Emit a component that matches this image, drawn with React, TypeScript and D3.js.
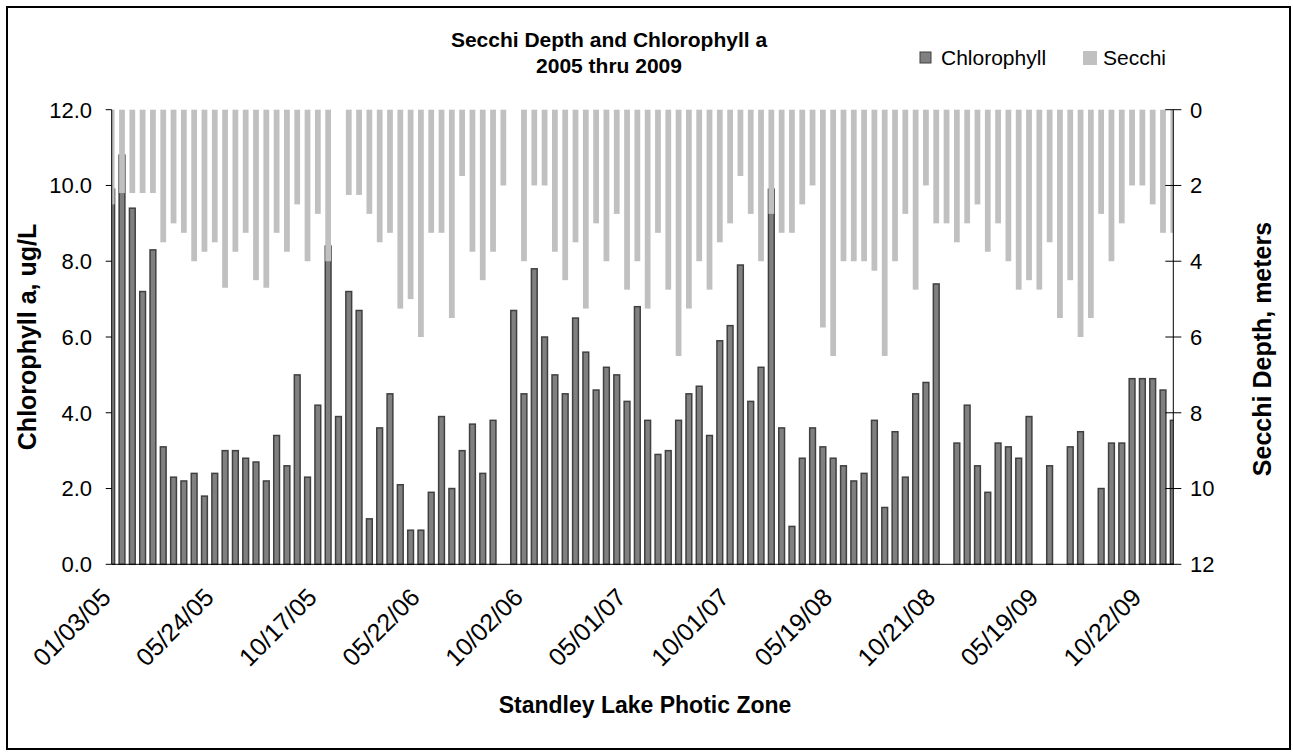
import React from "react";
import * as d3 from "d3";

const chlorophyll: (number | null)[] = [
  9.9, 10.8, 9.4, 7.2, 8.3, 3.1, 2.3, 2.2, 2.4, 1.8,
  2.4, 3.0, 3.0, 2.8, 2.7, 2.2, 3.4, 2.6, 5.0, 2.3,
  4.2, 8.4, 3.9, 7.2, 6.7, 1.2, 3.6, 4.5, 2.1, 0.9,
  0.9, 1.9, 3.9, 2.0, 3.0, 3.7, 2.4, 3.8, null, 6.7,
  4.5, 7.8, 6.0, 5.0, 4.5, 6.5, 5.6, 4.6, 5.2, 5.0,
  4.3, 6.8, 3.8, 2.9, 3.0, 3.8, 4.5, 4.7, 3.4, 5.9,
  6.3, 7.9, 4.3, 5.2, 9.9, 3.6, 1.0, 2.8, 3.6, 3.1,
  2.8, 2.6, 2.2, 2.4, 3.8, 1.5, 3.5, 2.3, 4.5, 4.8,
  7.4, null, 3.2, 4.2, 2.6, 1.9, 3.2, 3.1, 2.8, 3.9,
  null, 2.6, null, 3.1, 3.5, null, 2.0, 3.2, 3.2, 4.9,
  4.9, 4.9, 4.6, 3.8,
];

const secchi: (number | null)[] = [
  2.5, 2.2, 2.2, 2.2, 2.2, 3.5, 3.0, 3.25, 4.0, 3.75,
  3.5, 4.7, 3.75, 3.25, 4.5, 4.7, 3.25, 3.75, 2.5, 4.0,
  2.75, 4.0, null, 2.25, 2.25, 2.75, 3.5, 3.25, 5.25, 5.0,
  6.0, 3.25, 3.25, 5.5, 1.75, 3.75, 4.5, 3.75, 2.0, null,
  4.0, 2.0, 2.0, 3.75, 4.5, 3.5, 5.25, 3.0, 4.0, 2.75,
  4.75, 4.0, 5.25, 3.25, 4.75, 6.5, 5.25, 4.0, 4.75, 3.5,
  3.0, 1.75, 2.75, 4.0, 2.75, 3.25, 3.25, 2.5, 2.0, 5.75,
  6.5, 4.0, 4.0, 4.0, 4.25, 6.5, 4.0, 2.75, 4.75, 2.0,
  3.0, 3.0, 3.5, 3.0, 2.5, 3.75, 3.0, 4.0, 4.75, 4.5,
  4.75, 3.5, 5.5, 4.5, 6.0, 5.5, 2.75, 4.0, 3.0, 2.0,
  2.0, 2.5, 3.25, 3.25,
];

const xTickLabels = [
  "01/03/05", "05/24/05", "10/17/05", "05/22/06", "10/02/06", "05/01/07",
  "10/01/07", "05/19/08", "10/21/08", "05/19/09", "10/22/09",
];
const xTickIndex = [0, 10, 20, 30, 40, 50, 60, 70, 80, 90, 100];
const leftTicks = [0, 2, 4, 6, 8, 10, 12];
const rightTicks = [0, 2, 4, 6, 8, 10, 12];

const W = 1293;
const H = 756;
const X0 = 111.7;
const X1 = 1173.3;
const YT = 109.7;
const YB = 564.3;
const FONT = "'Liberation Sans', Arial, sans-serif";

export default function App() {
  const idx = chlorophyll.map((_, i) => i);
  const x = d3.scalePoint<number>().domain(idx).range([X0, X1]).padding(0);
  const yL = d3.scaleLinear().domain([0, 12]).range([YB, YT]);
  const yR = d3.scaleLinear().domain([0, 12]).range([YT, YB]);
  const step = x.step();
  const bw = step * 0.56;
  const fmt1 = d3.format(".1f");

  return (
    <svg
      width={W}
      height={H}
      style={{ position: "absolute", left: 0, top: 0, background: "#fff" }}
      fontFamily={FONT}
    >
      <defs>
        <clipPath id="plotclip">
          <rect x={X0} y={YT - 2} width={X1 - X0} height={YB - YT + 4} />
        </clipPath>
      </defs>
      <rect x={0} y={0} width={W} height={H} fill="#fff" />
      <rect x={7} y={7} width={1283} height={742} fill="none" stroke="#000" strokeWidth={2} />

      {/* Title */}
      <text x={609} y={47} textAnchor="middle" fontSize={21} fontWeight="bold">
        Secchi Depth and Chlorophyll a
      </text>
      <text x={609} y={73} textAnchor="middle" fontSize={21} fontWeight="bold">
        2005 thru 2009
      </text>

      {/* Legend */}
      <rect x={920} y={52} width={11} height={11} fill="#808080" stroke="#404040" strokeWidth={1} />
      <text x={941} y={65} fontSize={21}>Chlorophyll</text>
      <rect x={1083} y={51} width={14} height={14} fill="#c0c0c0" />
      <text x={1103} y={65} fontSize={21}>Secchi</text>

      {/* Bars */}
      <g clipPath="url(#plotclip)">
        {chlorophyll.map((v, i) =>
          v == null ? null : (
            <rect
              key={"c" + i}
              x={(x(i) as number) - bw / 2}
              y={yL(v)}
              width={bw}
              height={YB - yL(v)}
              fill="#808080"
              stroke="#404040"
              strokeWidth={1.5}
            />
          )
        )}
        {secchi.map((v, i) =>
          v == null ? null : (
            <rect
              key={"s" + i}
              x={(x(i) as number) - bw / 2}
              y={YT}
              width={bw}
              height={yR(v) - YT}
              fill="#c0c0c0"
            />
          )
        )}
      </g>

      {/* Axes */}
      <line x1={X0} x2={X0} y1={YT} y2={YB} stroke="#000" strokeWidth={1} />
      <line x1={X1} x2={X1} y1={YT} y2={YB} stroke="#000" strokeWidth={1} />
      <line x1={X0} x2={X1} y1={YB} y2={YB} stroke="#000" strokeWidth={1} />

      {leftTicks.map((t) => (
        <g key={"lt" + t}>
          <line x1={X0 - 6} x2={X0} y1={yL(t)} y2={yL(t)} stroke="#000" />
          <text x={92} y={yL(t)} dy="0.36em" textAnchor="end" fontSize={22}>
            {fmt1(t)}
          </text>
        </g>
      ))}
      {rightTicks.map((t) => (
        <g key={"rt" + t}>
          <line x1={X1 - 8} x2={X1 + 8} y1={yR(t)} y2={yR(t)} stroke="#000" />
          <text x={1190} y={yR(t)} dy="0.36em" textAnchor="start" fontSize={22}>
            {t}
          </text>
        </g>
      ))}

      {xTickLabels.map((lab, k) => {
        const px = x(xTickIndex[k]) as number;
        return (
          <text
            key={"xl" + k}
            transform={`translate(${px - 12},${YB + 22}) rotate(-45)`}
            textAnchor="end"
            dy="0.71em"
            fontSize={25}
          >
            {lab}
          </text>
        );
      })}

      {/* Axis titles */}
      <text
        transform={`translate(27,${(YT + YB) / 2}) rotate(-90)`}
        textAnchor="middle"
        dy="0.36em"
        fontSize={25}
        fontWeight="bold"
      >
        Chlorophyll a, ug/L
      </text>
      <text
        transform={`translate(1262,${(YT + YB) / 2 + 12}) rotate(-90)`}
        textAnchor="middle"
        dy="0.36em"
        fontSize={25}
        fontWeight="bold"
      >
        Secchi Depth, meters
      </text>
      <text x={645} y={713} textAnchor="middle" fontSize={23} fontWeight="bold">
        Standley Lake Photic Zone
      </text>
    </svg>
  );
}
